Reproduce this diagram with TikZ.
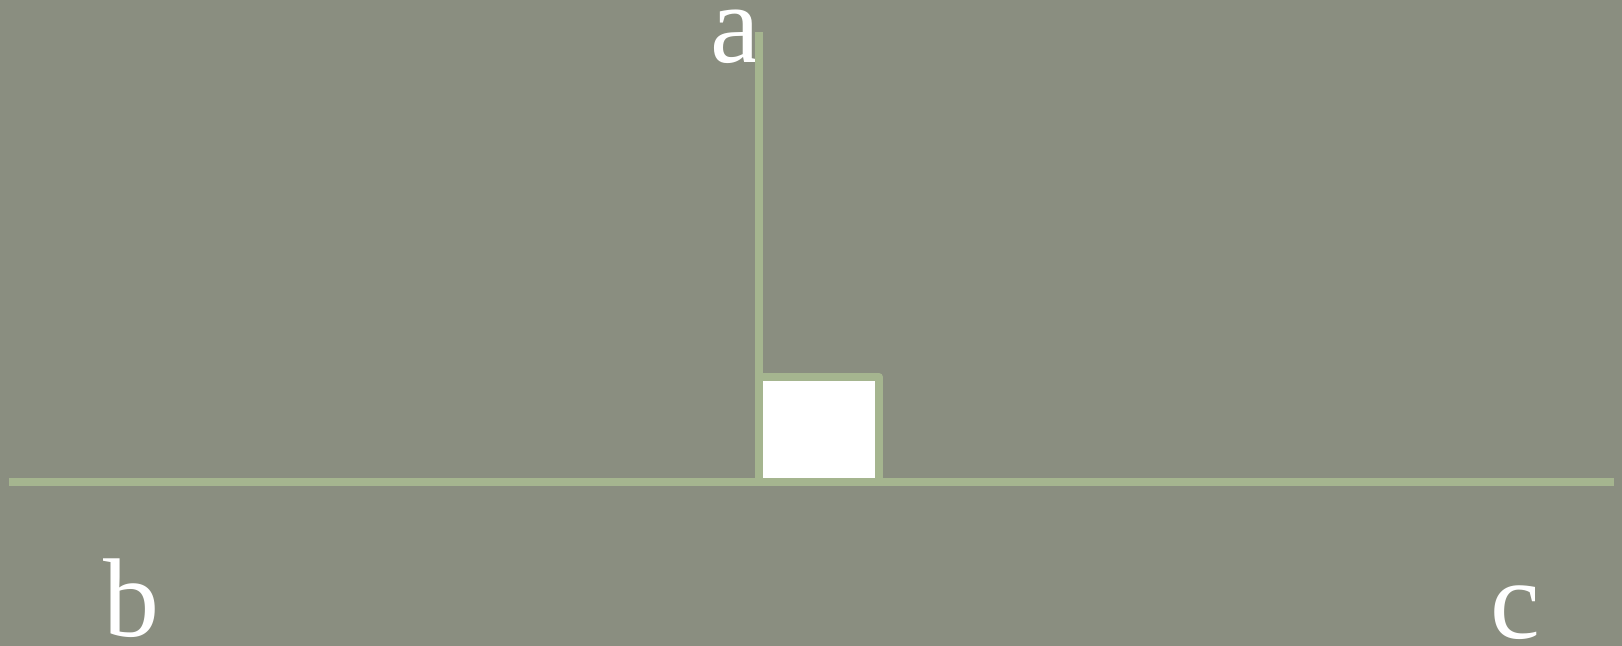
\documentclass[tikz,border=0pt]{standalone}
\usepackage{fontspec}
\setmainfont{Liberation Serif}
\usetikzlibrary{positioning}

\definecolor{slate}{RGB}{138,142,128}
\definecolor{sage}{RGB}{165,181,143}

\begin{document}
\begin{tikzpicture}[x=0.5pt,y=0.5pt,line width=4pt,
                    seg/.style={draw=sage},
                    letter/.style={text=white,anchor=base,inner sep=0pt,
                                   font=\fontsize{56}{60}\selectfont}]
  \fill[slate] (0,0) rectangle (1622,646);
  \useasboundingbox (0,0) rectangle (1622,646);

  \coordinate (L) at (9,164);
  \coordinate (R) at (1614,164);
  \coordinate (F) at (759,164);
  \coordinate (A) at (759,614);
  \coordinate (S1) at (759,269);
  \coordinate (S2) at (879,269);
  \coordinate (S3) at (879,164);

  \node[letter] (a) at (735,583) {a};
  \node[letter] (b) at (131,9)   {b};
  \node[letter] (c) at (1515,7)  {c};

  % right angle mark
  \fill[white] (F) rectangle (S2);
  \draw[seg,line join=round] (S1) -- (S2) -- (S3);

  \draw[seg] (A) -- (F);
  \draw[seg] (L) -- (R);
\end{tikzpicture}
\end{document}
